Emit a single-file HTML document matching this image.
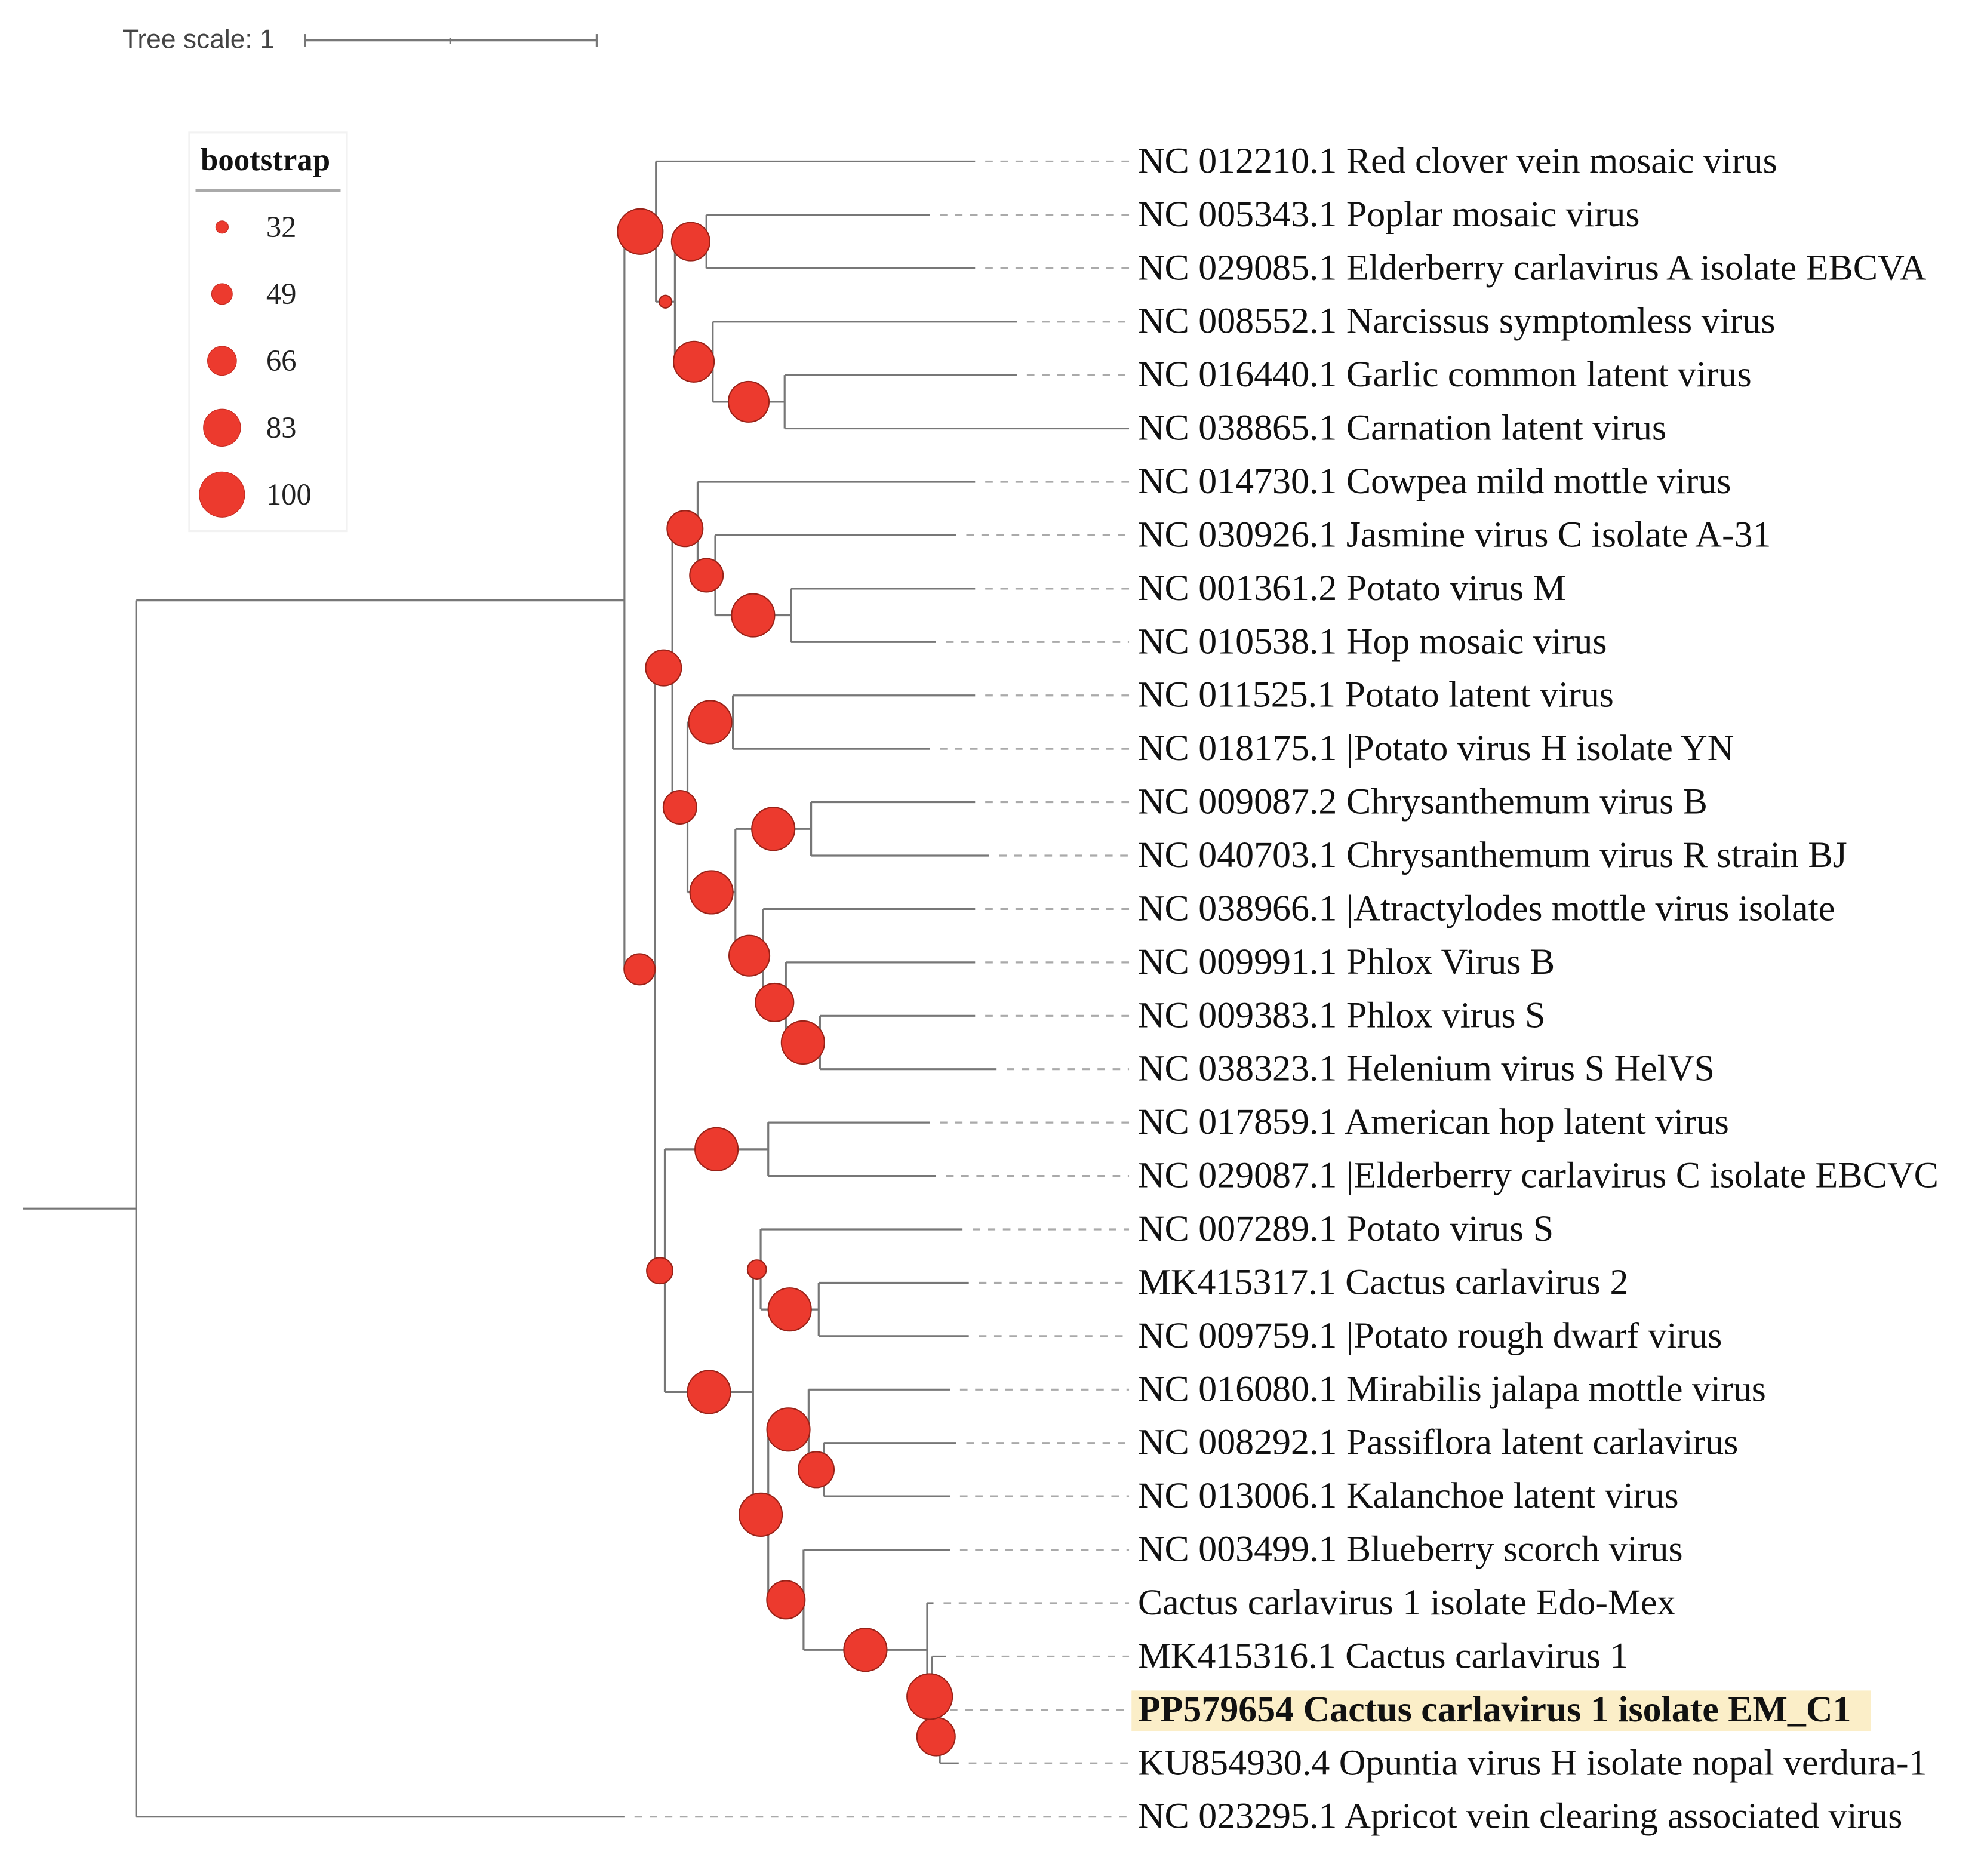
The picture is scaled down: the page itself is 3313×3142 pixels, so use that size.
<!DOCTYPE html>
<html><head><meta charset="utf-8"><style>
html,body{margin:0;padding:0;background:#fff;}
svg{display:block;}
</style></head><body>
<svg id="chart" xmlns="http://www.w3.org/2000/svg" width="3313" height="3142" viewBox="0 0 1568 1487" preserveAspectRatio="none">
<g>
<text x="97" y="38" font-family="Liberation Sans, sans-serif" font-size="21" fill="#444">Tree scale: 1</text>
<line x1="242" y1="32" x2="473" y2="32" stroke="#777" stroke-width="1.5"/>
<line x1="242" y1="27" x2="242" y2="37" stroke="#777" stroke-width="1.5"/>
<line x1="473" y1="27" x2="473" y2="37" stroke="#777" stroke-width="1.5"/>
<line x1="357" y1="30" x2="357" y2="35" stroke="#777" stroke-width="1.5"/>
</g>
<g>
<rect x="150" y="105" width="125" height="316" fill="#fff" stroke="#f2f2f2" stroke-width="1.5"/>
<text x="159" y="135" font-family="Liberation Serif, serif" font-weight="bold" font-size="25" fill="#111">bootstrap</text>
<line x1="155" y1="151" x2="270" y2="151" stroke="#aaa" stroke-width="2"/>
<g id="legend-items"></g>
</g>
<rect x="897" y="1340" width="586" height="32" fill="#fbeec8"/>
<g id="branches"></g>
<g id="dashes"></g>
<g id="circles"></g>
<g id="labels"></g>
</svg>
<script>
const leafNames = ["NC 012210.1 Red clover vein mosaic virus","NC 005343.1 Poplar mosaic virus","NC 029085.1 Elderberry carlavirus A isolate EBCVA","NC 008552.1 Narcissus symptomless virus","NC 016440.1 Garlic common latent virus","NC 038865.1 Carnation latent virus","NC 014730.1 Cowpea mild mottle virus","NC 030926.1 Jasmine virus C isolate A-31","NC 001361.2 Potato virus M","NC 010538.1 Hop mosaic virus","NC 011525.1 Potato latent virus","NC 018175.1 |Potato virus H isolate YN","NC 009087.2 Chrysanthemum virus B","NC 040703.1 Chrysanthemum virus R strain BJ","NC 038966.1 |Atractylodes mottle virus isolate","NC 009991.1 Phlox Virus B","NC 009383.1 Phlox virus S","NC 038323.1 Helenium virus S HelVS","NC 017859.1 American hop latent virus","NC 029087.1 |Elderberry carlavirus C isolate EBCVC","NC 007289.1 Potato virus S","MK415317.1 Cactus carlavirus 2","NC 009759.1 |Potato rough dwarf virus","NC 016080.1 Mirabilis jalapa mottle virus","NC 008292.1 Passiflora latent carlavirus","NC 013006.1 Kalanchoe latent virus","NC 003499.1 Blueberry scorch virus","Cactus carlavirus 1 isolate Edo-Mex","MK415316.1 Cactus carlavirus 1","PP579654 Cactus carlavirus 1 isolate EM_C1","KU854930.4 Opuntia virus H isolate nopal verdura-1","NC 023295.1 Apricot vein clearing associated virus"];
const leafDepth = [773,737,773,806,806,895,773,758,773,742,773,737,773,784,773,773,773,790,737,742,763,768,768,753,758,753,753,740,750,745,760,495];
const nodeNames = ["root","A","B","B2","B3","B4","B5","C","D","E","F","F2","F3","G","G1","G2","G3","G4","G5","G6","H","I","J","J2","K","K1","K2","K3","K4","K5","K6"];
const nodeDepth = [108,495,520,535,560,565,622,519,533,527,553,567,627,545,581,583,643,605,623,650,609,597,603,649,609,641,637,653,735,739,745];
const nodeChildren = [["A",31],["B","C"],[0,"B2"],["B3","B4"],[1,2],[3,"B5"],[4,5],["D","E"],["F","G"],["H","I"],[6,"F2"],[7,"F3"],[8,9],["G1","G2"],[10,11],["G3","G4"],[12,13],[14,"G5"],[15,"G6"],[16,17],[18,19],["J","K"],[20,"J2"],[21,22],["K1","K2"],[23,"K3"],[26,"K4"],[24,25],[27,"K5"],[28,"K6"],[29,30]];
const nodeBootstrap = [null,null,100,32,85,90,90,70,80,60,80,75,95,75,95,95,95,90,85,95,95,95,45,95,95,95,85,80,95,100,85];
const legendValues = [32,49,66,83,100];

const NS="http://www.w3.org/2000/svg";
const yTop=128, yStep=(1440-128)/31, labelX=902, dashEnd=895;
const yLeaf=i=>yTop+i*yStep;
const rScale=b=>5+(b-32)/68*13;
function mk(tag,attrs,parent){const e=document.createElementNS(NS,tag);for(const k in attrs)e.setAttribute(k,attrs[k]);parent.appendChild(e);return e;}
const gB=document.getElementById('branches'),gD=document.getElementById('dashes'),gC=document.getElementById('circles'),gL=document.getElementById('labels');
const idx={};nodeNames.forEach((n,i)=>idx[n]=i);
const yOf={};
function nodeY(n){
  if(typeof n==='number')return yLeaf(n);
  if(yOf[n]!==undefined)return yOf[n];
  const ch=nodeChildren[idx[n]];
  const y=(nodeY(ch[0])+nodeY(ch[ch.length-1]))/2;yOf[n]=y;return y;
}
function draw(n,parentX){
  const i=idx[n],x=nodeDepth[i],y=nodeY(n);
  const ch=nodeChildren[i];
  const ys=ch.map(nodeY);
  const v=mk('line',{x1:x,y1:Math.min(...ys),x2:x,y2:Math.max(...ys),stroke:'#777','stroke-width':1.5},gB);
  
  
  const h=mk('line',{x1:parentX,y1:y,x2:x,y2:y,stroke:'#777','stroke-width':1.5},gB);
  
  
  ch.forEach(c=>{
    if(typeof c==='number'){
      const ly=yLeaf(c),lx=leafDepth[c];
      const hl=mk('line',{x1:x,y1:ly,x2:lx,y2:ly,stroke:'#777','stroke-width':1.5},gB);
      
      
      if(lx<dashEnd-4){
        const d=mk('line',{x1:lx+8,y1:ly,x2:dashEnd,y2:ly,stroke:'#aaa','stroke-width':1.5,'stroke-dasharray':'6,6'},gD);
        
        
      }
      const bold=leafNames[c].startsWith('PP579654');
      const t=mk('text',{x:labelX,y:ly+9,'font-family':'Liberation Serif, serif','font-size':29.3,fill:'#111','font-weight':bold?'bold':'normal'},gL);
      t.textContent=leafNames[c];
      
      
    } else draw(c,x);
  });
  const b=nodeBootstrap[i];
  if(b!==null){
    const c=mk('circle',{cx:(parentX+x)/2,cy:y,r:rScale(b),fill:'#ec3a2e',stroke:'#9a2218','stroke-width':1},gC);
    
    
  }
}
draw('root',18);
const gLeg=document.getElementById('legend-items');
legendValues.forEach((v,k)=>{
  const y=180+k*53;
  const c=mk('circle',{cx:176,cy:y,r:rScale(v),fill:'#ec3a2e',stroke:'#c02a20','stroke-width':0.5},gLeg);
  
  
  const t=mk('text',{x:211,y:y+8,'font-family':'Liberation Serif, serif','font-size':24,fill:'#222'},gLeg);
  t.textContent=v;
  
  
});
</script>
</body></html>
